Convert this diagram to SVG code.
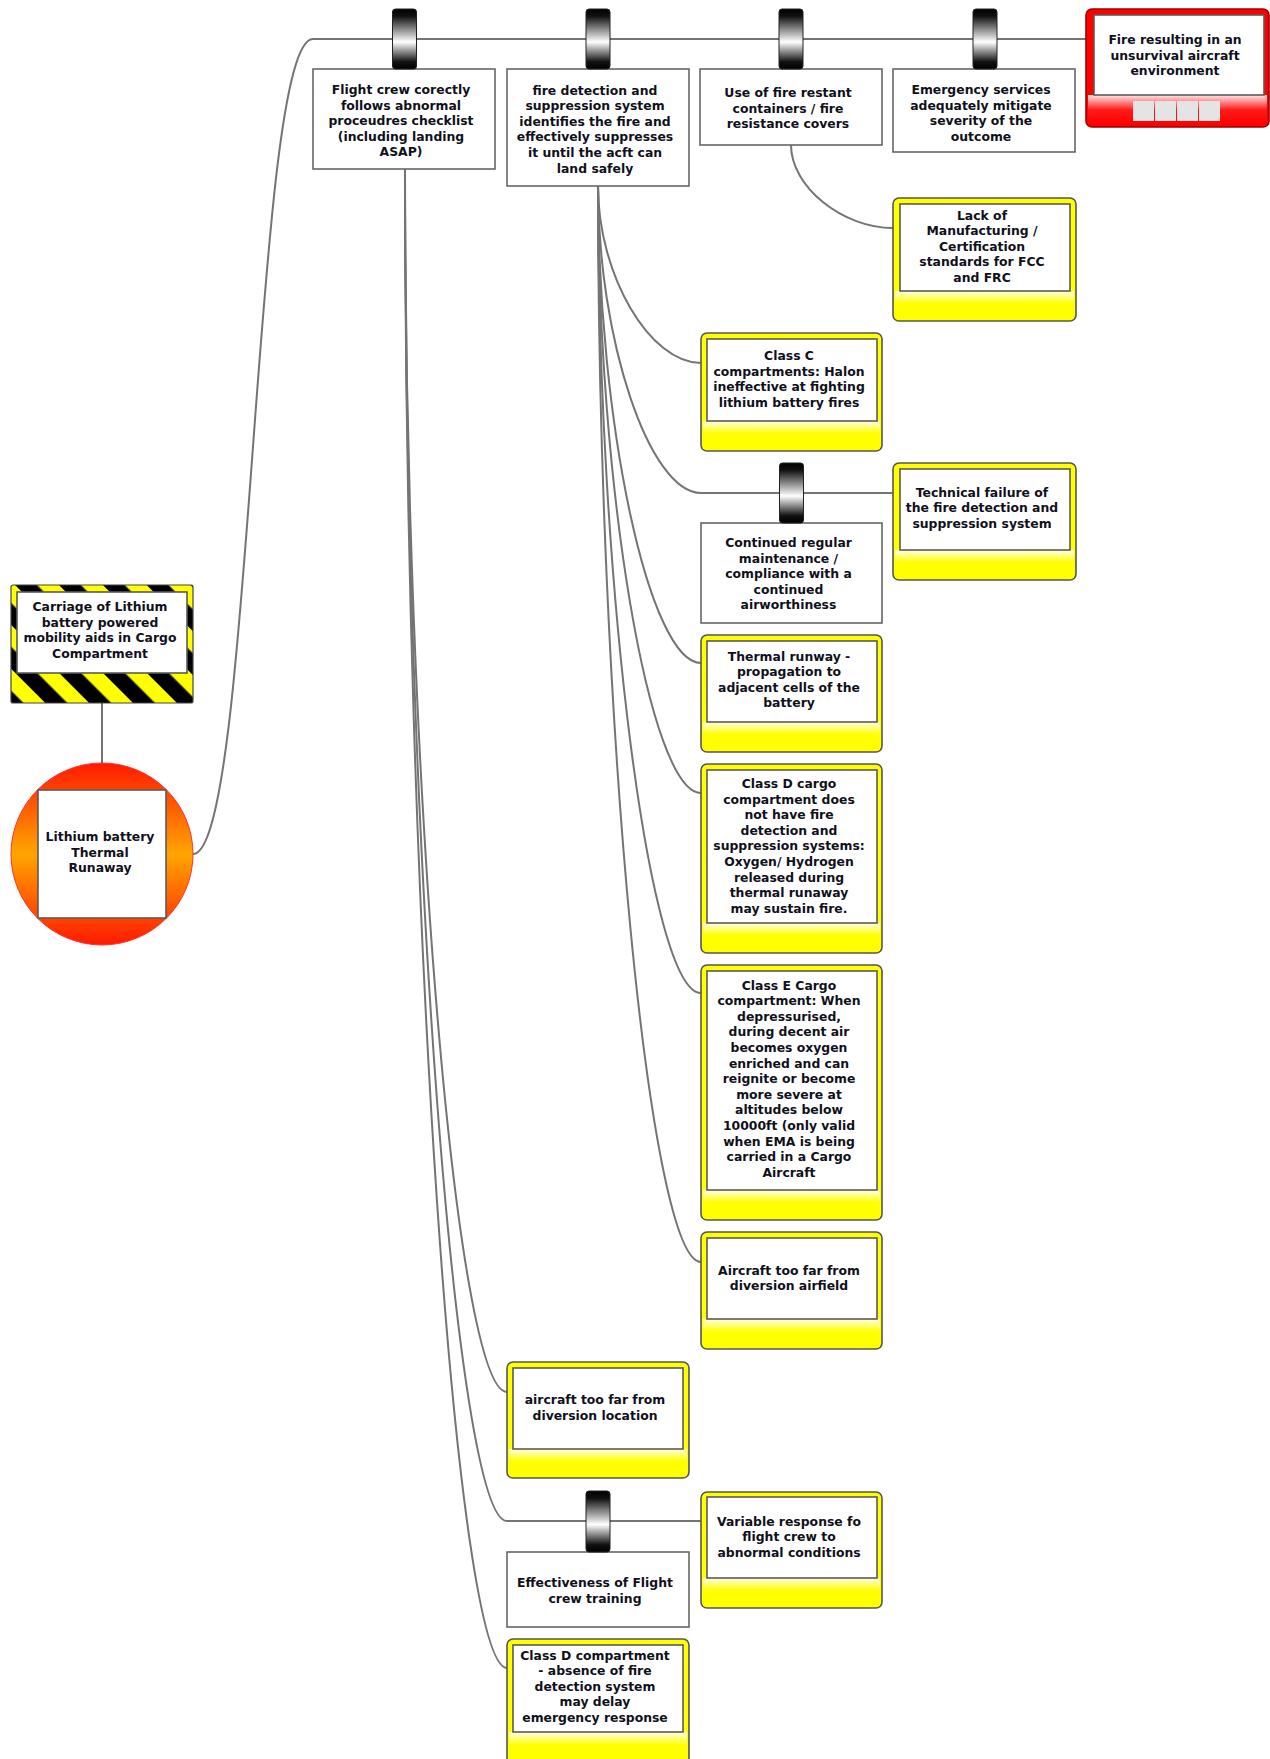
<svg xmlns="http://www.w3.org/2000/svg" width="1270" height="1759" viewBox="0 0 1270 1759">
<defs>
<style>
.ln{fill:none;stroke:#747474;stroke-width:2}
.t{font-family:"DejaVu Sans",Verdana,sans-serif;font-weight:bold;font-size:12.4px;fill:#10101c;text-anchor:middle}
.bx{fill:#fff;stroke:#666;stroke-width:1.6}
.in{fill:#fff;stroke:#5a5a5a;stroke-width:1.6}
.yo{fill:#ffff00;stroke:#555;stroke-width:1.6}
.yb{fill:url(#yg)}
.cyl{fill:url(#cg);stroke:#222;stroke-width:1}
</style>
<linearGradient id="yg" x1="0" y1="0" x2="0" y2="1">
<stop offset="0" stop-color="#ffffe6"/>
<stop offset="0.45" stop-color="#ffff00"/>
<stop offset="1" stop-color="#ffff00"/>
</linearGradient>
<linearGradient id="rg" x1="0" y1="0" x2="0" y2="1">
<stop offset="0" stop-color="#ffe6e6"/>
<stop offset="0.5" stop-color="#ff1a1a"/>
<stop offset="1" stop-color="#ff0000"/>
</linearGradient>
<linearGradient id="cg" x1="0" y1="0" x2="0" y2="1">
<stop offset="0" stop-color="#000"/>
<stop offset="0.12" stop-color="#111"/>
<stop offset="0.55" stop-color="#fff"/>
<stop offset="0.88" stop-color="#111"/>
<stop offset="1" stop-color="#000"/>
</linearGradient>
<linearGradient id="og" x1="0" y1="0" x2="0" y2="1">
<stop offset="0" stop-color="#ff1a00"/>
<stop offset="0.5" stop-color="#ffa500"/>
<stop offset="1" stop-color="#ff1a00"/>
</linearGradient>
<pattern id="haz" patternUnits="userSpaceOnUse" width="31" height="31" patternTransform="rotate(-45)">
<rect width="31" height="31" fill="#ffff00"/>
<rect width="15.5" height="31" fill="#000"/>
</pattern>
</defs>
<rect width="1270" height="1759" fill="#fff"/>

<g id="connectors">
<path class="ln" d="M193,854 C253,854 253,39 313,39 L1086,39"/>
<path class="ln" d="M102,703 L102,763"/>
<path class="ln" d="M405,169 C405,780.5 456,1392 507,1392"/>
<path class="ln" d="M405,169 C405,845 456,1521 507,1521 L701,1521"/>
<path class="ln" d="M405,169 C405,918.5 456,1668 507,1668"/>
<path class="ln" d="M598,186 C598,274.5 649.5,363 701,363"/>
<path class="ln" d="M598,186 C598,339.5 649.5,493 701,493 L893,493"/>
<path class="ln" d="M598,186 C598,424.5 649.5,663 701,663"/>
<path class="ln" d="M598,186 C598,489.5 649.5,793 701,793"/>
<path class="ln" d="M598,186 C598,589.5 649.5,993 701,993"/>
<path class="ln" d="M598,186 C598,724 649.5,1262 701,1262"/>
<path class="ln" d="M791,145 C791,186.5 842,228 893,228"/>
</g>

<g id="hazard">
<rect x="11" y="585" width="182" height="118" rx="2" fill="url(#haz)" stroke="#444" stroke-width="1.2"/>
<rect class="in" x="17" y="592" width="170" height="81"/>
<text class="t"><tspan x="100" y="611">Carriage of Lithium</tspan><tspan x="100" dy="15.6">battery powered</tspan><tspan x="100" dy="15.6">mobility aids in Cargo</tspan><tspan x="100" dy="15.6">Compartment</tspan></text>
</g>

<g id="top-event">
<rect x="1086" y="9" width="183" height="118" rx="6" fill="#ff0000" stroke="#a00000" stroke-width="1.6"/>
<rect x="1088" y="95" width="179" height="30" fill="url(#rg)"/>
<rect class="in" x="1094" y="15" width="170" height="80"/>
<rect x="1133" y="101" width="21" height="20" fill="#e4e4e4"/>
<rect x="1155" y="101" width="21" height="20" fill="#e4e4e4"/>
<rect x="1177" y="101" width="21" height="20" fill="#e4e4e4"/>
<rect x="1199" y="101" width="21" height="20" fill="#e4e4e4"/>
<text class="t"><tspan x="1175" y="44">Fire resulting in an</tspan><tspan x="1175" dy="15.6">unsurvival aircraft</tspan><tspan x="1175" dy="15.6">environment</tspan></text>
</g>

<g id="threat">
<circle cx="102" cy="854" r="91" fill="url(#og)" stroke="#ff3030" stroke-width="1"/>
<rect class="in" x="38" y="790" width="128" height="128"/>
<text class="t"><tspan x="100" y="841">Lithium battery</tspan><tspan x="100" dy="15.6">Thermal</tspan><tspan x="100" dy="15.6">Runaway</tspan></text>
</g>

<g id="barrier-flight-crew">
<rect class="bx" x="313" y="69" width="182" height="100"/>
<text class="t"><tspan x="401" y="94">Flight crew corectly</tspan><tspan x="401" dy="15.6">follows abnormal</tspan><tspan x="401" dy="15.6">proceudres checklist</tspan><tspan x="401" dy="15.6">(including landing</tspan><tspan x="401" dy="15.6">ASAP)</tspan></text>
<rect class="cyl" x="392.5" y="9" width="24" height="60" rx="3"/>
</g>

<g id="barrier-fire-detection">
<rect class="bx" x="507" y="69" width="182" height="117"/>
<text class="t"><tspan x="595" y="94.5">fire detection and</tspan><tspan x="595" dy="15.6">suppression system</tspan><tspan x="595" dy="15.6">identifies the fire and</tspan><tspan x="595" dy="15.6">effectively suppresses</tspan><tspan x="595" dy="15.6">it until the acft can</tspan><tspan x="595" dy="15.6">land safely</tspan></text>
<rect class="cyl" x="586" y="9" width="24" height="60" rx="3"/>
</g>

<g id="barrier-containers">
<rect class="bx" x="700" y="69" width="182" height="76"/>
<text class="t"><tspan x="788" y="97">Use of fire restant</tspan><tspan x="788" dy="15.6">containers / fire</tspan><tspan x="788" dy="15.6">resistance covers</tspan></text>
<rect class="cyl" x="779" y="9" width="24" height="60" rx="3"/>
</g>

<g id="barrier-emergency">
<rect class="bx" x="893" y="69" width="182" height="83"/>
<text class="t"><tspan x="981" y="94">Emergency services</tspan><tspan x="981" dy="15.6">adequately mitigate</tspan><tspan x="981" dy="15.6">severity of the</tspan><tspan x="981" dy="15.6">outcome</tspan></text>
<rect class="cyl" x="973" y="9" width="24" height="60" rx="3"/>
</g>

<g id="ef-lack-standards">
<rect class="yo" x="893" y="198" width="183" height="123" rx="6"/>
<rect class="yb" x="895" y="291" width="179" height="28"/>
<rect class="in" x="900" y="204" width="170" height="87"/>
<text class="t"><tspan x="982" y="219.5">Lack of</tspan><tspan x="982" dy="15.6">Manufacturing /</tspan><tspan x="982" dy="15.6">Certification</tspan><tspan x="982" dy="15.6">standards for FCC</tspan><tspan x="982" dy="15.6">and FRC</tspan></text>
</g>

<g id="ef-class-c">
<rect class="yo" x="701" y="333" width="181" height="118" rx="6"/>
<rect class="yb" x="703" y="421" width="177" height="28"/>
<rect class="in" x="707" y="339" width="170" height="82"/>
<text class="t"><tspan x="789" y="360">Class C</tspan><tspan x="789" dy="15.6">compartments: Halon</tspan><tspan x="789" dy="15.6">ineffective at fighting</tspan><tspan x="789" dy="15.6">lithium battery fires</tspan></text>
</g>

<g id="barrier-maintenance">
<rect class="bx" x="701" y="523" width="181" height="100"/>
<text class="t"><tspan x="788.5" y="547">Continued regular</tspan><tspan x="788.5" dy="15.6">maintenance /</tspan><tspan x="788.5" dy="15.6">compliance with a</tspan><tspan x="788.5" dy="15.6">continued</tspan><tspan x="788.5" dy="15.6">airworthiness</tspan></text>
<rect class="cyl" x="779.5" y="463" width="24" height="60" rx="3"/>
</g>

<g id="ef-technical-failure">
<rect class="yo" x="893" y="463" width="183" height="117" rx="6"/>
<rect class="yb" x="895" y="550" width="179" height="28"/>
<rect class="in" x="900" y="469" width="170" height="81"/>
<text class="t"><tspan x="982" y="496.5">Technical failure of</tspan><tspan x="982" dy="15.6">the fire detection and</tspan><tspan x="982" dy="15.6">suppression system</tspan></text>
</g>

<g id="ef-thermal-runway">
<rect class="yo" x="701" y="635" width="181" height="117" rx="6"/>
<rect class="yb" x="703" y="722" width="177" height="28"/>
<rect class="in" x="707" y="641" width="170" height="81"/>
<text class="t"><tspan x="789" y="660.5">Thermal runway -</tspan><tspan x="789" dy="15.6">propagation to</tspan><tspan x="789" dy="15.6">adjacent cells of the</tspan><tspan x="789" dy="15.6">battery</tspan></text>
</g>

<g id="ef-class-d-cargo">
<rect class="yo" x="701" y="764" width="181" height="189" rx="6"/>
<rect class="yb" x="703" y="923" width="177" height="28"/>
<rect class="in" x="707" y="770" width="170" height="153"/>
<text class="t"><tspan x="789" y="788">Class D cargo</tspan><tspan x="789" dy="15.6">compartment does</tspan><tspan x="789" dy="15.6">not have fire</tspan><tspan x="789" dy="15.6">detection and</tspan><tspan x="789" dy="15.6">suppression systems:</tspan><tspan x="789" dy="15.6">Oxygen/ Hydrogen</tspan><tspan x="789" dy="15.6">released during</tspan><tspan x="789" dy="15.6">thermal runaway</tspan><tspan x="789" dy="15.6">may sustain fire.</tspan></text>
</g>

<g id="ef-class-e">
<rect class="yo" x="701" y="965" width="181" height="255" rx="6"/>
<rect class="yb" x="703" y="1190" width="177" height="28"/>
<rect class="in" x="707" y="971" width="170" height="219"/>
<text class="t"><tspan x="789" y="989.5">Class E Cargo</tspan><tspan x="789" dy="15.6">compartment: When</tspan><tspan x="789" dy="15.6">depressurised,</tspan><tspan x="789" dy="15.6">during decent air</tspan><tspan x="789" dy="15.6">becomes oxygen</tspan><tspan x="789" dy="15.6">enriched and can</tspan><tspan x="789" dy="15.6">reignite or become</tspan><tspan x="789" dy="15.6">more severe at</tspan><tspan x="789" dy="15.6">altitudes below</tspan><tspan x="789" dy="15.6">10000ft (only valid</tspan><tspan x="789" dy="15.6">when EMA is being</tspan><tspan x="789" dy="15.6">carried in a Cargo</tspan><tspan x="789" dy="15.6">Aircraft</tspan></text>
</g>

<g id="ef-too-far-airfield">
<rect class="yo" x="701" y="1232" width="181" height="117" rx="6"/>
<rect class="yb" x="703" y="1319" width="177" height="28"/>
<rect class="in" x="707" y="1238" width="170" height="81"/>
<text class="t"><tspan x="789" y="1274.5">Aircraft too far from</tspan><tspan x="789" dy="15.6">diversion airfield</tspan></text>
</g>

<g id="ef-too-far-location">
<rect class="yo" x="507" y="1362" width="182" height="116" rx="6"/>
<rect class="yb" x="509" y="1449" width="178" height="27"/>
<rect class="in" x="513" y="1368" width="170" height="81"/>
<text class="t"><tspan x="595" y="1404">aircraft too far from</tspan><tspan x="595" dy="15.6">diversion location</tspan></text>
</g>

<g id="barrier-training">
<rect class="bx" x="507" y="1552" width="182" height="75"/>
<text class="t"><tspan x="595" y="1587">Effectiveness of Flight</tspan><tspan x="595" dy="15.6">crew training</tspan></text>
<rect class="cyl" x="586" y="1491" width="24" height="61" rx="3"/>
</g>

<g id="ef-variable-response">
<rect class="yo" x="701" y="1492" width="181" height="116" rx="6"/>
<rect class="yb" x="703" y="1578" width="177" height="28"/>
<rect class="in" x="707" y="1497" width="170" height="81"/>
<text class="t"><tspan x="789" y="1525.5">Variable response fo</tspan><tspan x="789" dy="15.6">flight crew to</tspan><tspan x="789" dy="15.6">abnormal conditions</tspan></text>
</g>

<g id="ef-class-d-compartment">
<rect class="yo" x="507" y="1639" width="182" height="130" rx="6"/>
<rect class="yb" x="509" y="1732" width="178" height="30"/>
<rect class="in" x="513" y="1645" width="170" height="87"/>
<text class="t"><tspan x="595" y="1659.5">Class D compartment</tspan><tspan x="595" dy="15.6">- absence of fire</tspan><tspan x="595" dy="15.6">detection system</tspan><tspan x="595" dy="15.6">may delay</tspan><tspan x="595" dy="15.6">emergency response</tspan></text>
</g>
</svg>
